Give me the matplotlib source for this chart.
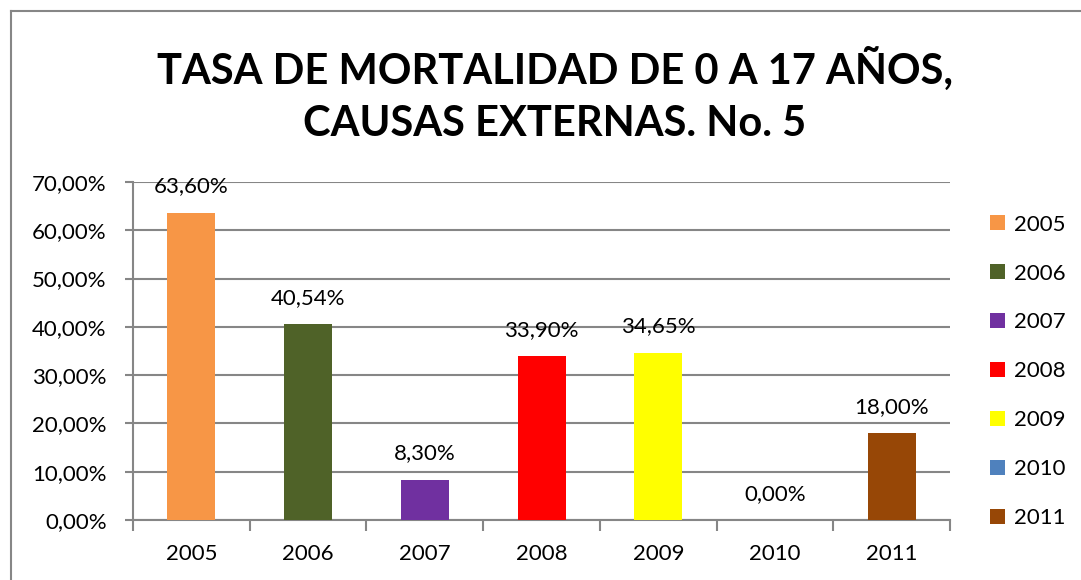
import matplotlib.pyplot as plt
from matplotlib.patches import Patch
from matplotlib.lines import Line2D

plt.rcParams['font.family'] = ['Lato', 'DejaVu Sans']

years = ['2005', '2006', '2007', '2008', '2009', '2010', '2011']
tasa = [63.60, 40.54, 8.30, 33.90, 34.65, 0.00, 18.00]
colores = ['#F79646', '#4F6228', '#7030A0', '#FF0000', '#FFFF00', '#4F81BD', '#974706']
titulo = 'TASA DE MORTALIDAD DE 0 A 17 AÑOS,\nCAUSAS EXTERNAS. No. 5'

fig = plt.figure(figsize=(10.81, 5.8), dpi=100)
ax = fig.add_axes([0.123, 0.1034, 0.756, 0.5828])

x = list(range(len(years)))
ax.bar(x, tasa, width=0.41, color=colores, zorder=3)

for xi, v in zip(x, tasa):
    ax.annotate(f'{v:.2f}%'.replace('.', ','), (xi, v), xytext=(0, 19),
                textcoords='offset points', ha='center', va='center', fontsize=16)

ax.set_xlim(-0.5, len(years) - 0.5)
ax.set_ylim(0, 70)
ax.set_yticks(range(0, 71, 10))
ax.set_yticklabels([f'{t},00%' for t in range(0, 71, 10)], fontsize=16)
ax.set_xticks(x)
ax.set_xticklabels(years, fontsize=16)
ax.set_xticks([i - 0.5 for i in range(len(years) + 1)], minor=True)
ax.tick_params(axis='x', which='major', length=0, pad=17)
ax.tick_params(axis='x', which='minor', length=8, width=1.5, color='#868686', direction='out')
ax.tick_params(axis='y', length=6, width=1.5, color='#868686', pad=13)

ax.grid(axis='y', color='#868686', linewidth=1.5, zorder=0)
for s in ['top', 'right']:
    ax.spines[s].set_visible(False)
for s in ['left', 'bottom']:
    ax.spines[s].set_color('#868686')
    ax.spines[s].set_linewidth(1.5)

fig.text(0.513, 0.836, titulo, ha='center', va='center', fontsize=30,
         fontweight='bold', linespacing=1.45)

handles = [Patch(facecolor=c, label=y) for c, y in zip(colores, years)]
fig.legend(handles=handles, loc='upper left', bbox_to_anchor=(0.906, 0.649),
           frameon=False, fontsize=16, labelspacing=1.3, handlelength=0.65,
           handleheight=0.65, handletextpad=0.4, borderpad=0)

# borde del gráfico
fig.add_artist(Line2D([11 / 1081, 11 / 1081], [0, 1 - 11 / 580], color='#868686', linewidth=1.5))
fig.add_artist(Line2D([11 / 1081, 1], [1 - 11 / 580, 1 - 11 / 580], color='#868686', linewidth=1.5))

fig.savefig('out.png', dpi=100)
